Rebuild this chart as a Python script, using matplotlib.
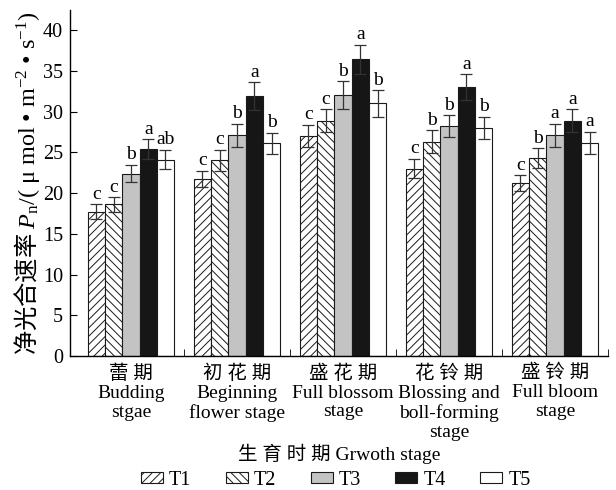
import matplotlib
matplotlib.use("Agg")
import matplotlib.pyplot as plt
import numpy as np
from matplotlib.patches import Patch

plt.rcParams['font.family'] = ['Liberation Serif', 'Noto Sans CJK SC']
plt.rcParams['mathtext.fontset'] = 'custom'
plt.rcParams['mathtext.rm'] = 'Liberation Serif'
plt.rcParams['mathtext.it'] = 'Liberation Serif:italic'
plt.rcParams['hatch.linewidth'] = 0.7
plt.rcParams['hatch.color'] = '#404040'

stages = ['蕾 期\nBudding\nstgae',
          '初 花 期\nBeginning\nflower stage',
          '盛 花 期\nFull blossom\nstage',
          '花 铃 期\nBlossing and\nboll-forming\nstage',
          '盛 铃 期\nFull bloom\nstage']
treatments = ['T1', 'T2', 'T3', 'T4', 'T5']

T1 = [17.7, 21.7, 27.0, 23.0, 21.2]
T2 = [18.6, 24.0, 28.9, 26.3, 24.3]
T3 = [22.4, 27.1, 32.0, 28.2, 27.1]
T4 = [25.4, 31.9, 36.4, 33.0, 28.9]
T5 = [24.1, 26.1, 31.0, 28.0, 26.2]

T1_err = [0.9, 1.0, 1.35, 1.2, 1.0]
T2_err = [0.9, 1.3, 1.4, 1.4, 1.2]
T3_err = [1.1, 1.4, 1.7, 1.35, 1.4]
T4_err = [1.2, 1.7, 1.8, 1.6, 1.4]
T5_err = [1.2, 1.3, 1.6, 1.4, 1.35]

T1_sig = ['c', 'c', 'c', 'c', 'c']
T2_sig = ['c', 'c', 'c', 'b', 'b']
T3_sig = ['b', 'b', 'b', 'b', 'a']
T4_sig = ['a', 'a', 'a', 'a', 'a']
T5_sig = ['ab', 'b', 'b', 'b', 'a']

values = [T1, T2, T3, T4, T5]
errors = [T1_err, T2_err, T3_err, T4_err, T5_err]
sigs = [T1_sig, T2_sig, T3_sig, T4_sig, T5_sig]
colors = ['white', 'white', '#c3c3c3', '#161616', 'white']
hatches = ['////', '\\\\\\\\', None, None, None]

fig = plt.figure(figsize=(6.16, 4.9), dpi=100)
ax = fig.add_axes([0.1136, 0.2735, 0.8734, 0.7065])

x = np.arange(len(stages))
w = 0.163
for i in range(5):
    pos = x + (i - 2) * w
    ax.bar(pos, values[i], width=w, color=colors[i], edgecolor='#1a1a1a',
           linewidth=0.8, hatch=hatches[i], zorder=2)
    ax.errorbar(pos, values[i], yerr=errors[i], fmt='none', ecolor='#333333',
                elinewidth=0.9, capsize=4, capthick=0.9, zorder=3)
    for p, v, e, s in zip(pos, values[i], errors[i], sigs[i]):
        ax.text(p, v + e + 0.2, s, ha='center', va='bottom', fontsize=14)

ax.set_xlim(-0.575, 4.5)
ax.set_ylim(0, 42.5)
ax.set_yticks(np.arange(0, 41, 5))
ax.set_xticks(x)
ax.set_xticklabels(stages, fontsize=14, linespacing=1.15)
ax.set_xticks(x + 0.5, minor=True)
ax.tick_params(axis='x', which='major', direction='in', length=5, pad=6)
ax.tick_params(axis='x', which='minor', direction='in', length=5)
ax.tick_params(axis='y', direction='in', length=5, labelsize=14.5, pad=5)
for sp in ['top', 'right']:
    ax.spines[sp].set_visible(False)
for sp in ['left', 'bottom']:
    ax.spines[sp].set_linewidth(1.0)

ax.set_ylabel('净光合速率 $\\mathit{P}_\\mathrm{n}\\mathrm{/(\\ \\mu\\ mol\\ •\\ m^{-2}\\ •\\ s^{-1})}$',
              fontsize=17.5, labelpad=1, family='Noto Sans CJK SC')
ax.set_xlabel('生 育 时 期 Grwoth stage', fontsize=14, labelpad=2)

handles = [Patch(facecolor=colors[i], edgecolor='#1a1a1a', hatch=hatches[i], linewidth=0.8)
           for i in range(5)]
fig.legend(handles, treatments, loc='center', bbox_to_anchor=(0.545, 0.02), ncol=5,
           frameon=False, fontsize=14.5, handlelength=1.1, handleheight=0.5,
           handletextpad=0.3, columnspacing=1.7)

fig.savefig('out.png', dpi=100)
